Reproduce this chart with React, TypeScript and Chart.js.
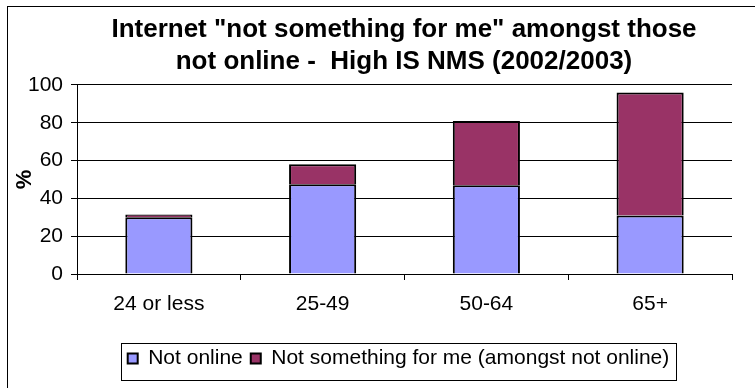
import React, { useEffect, useRef } from "react";
import { Chart, registerables } from "chart.js";

Chart.register(...registerables);

const categories = ["24 or less", "25-49", "50-64", "65+"];
const notOnline = [30, 47.5, 47, 31];
const notSomethingForMe = [1.5, 10.5, 34, 65];
const seriesLabels = ["Not online", "Not something for me (amongst not online)"];
const titleLines = ['Internet "not something for me" amongst those', "not online -  High IS NMS (2002/2003)"];
const yAxisTitle = "%";
const yMin = 0;
const yMax = 100;
const yStep = 20;

const FONT = '"Liberation Sans", Arial, sans-serif';

const framePlugin = {
  id: "frame",
  afterLayout(chart: any) {
    const tb = chart.titleBlock;
    if (tb) {
      tb.left += 34.5;
      tb.right += 34.5;
    }
    const lg = chart.legend;
    if (lg) {
      lg.left += 29;
      lg.right += 29;
    }
  },
  beforeDraw(chart: any) {
    const ctx = chart.ctx;
    ctx.save();
    ctx.fillStyle = "#ffffff";
    ctx.fillRect(0, 0, chart.width, chart.height);
    ctx.strokeStyle = "#000000";
    ctx.lineWidth = 1;
    ctx.strokeRect(7.5, 6.5, chart.width + 50, chart.height + 50);
    ctx.restore();
  },
  afterDraw(chart: any) {
    const lg = chart.legend;
    if (!lg || !lg.lineWidths) return;
    const p = lg.options.labels.padding;
    const lw = lg.lineWidths[0];
    const start = (lg.left + p + lg.right - lw) / 2;
    const end = start + lw - p;
    const ctx = chart.ctx;
    ctx.save();
    ctx.strokeStyle = "#000000";
    ctx.lineWidth = 1;
    const x0 = Math.round(start - 7) + 0.5;
    const x1 = Math.round(end + 7) + 0.5;
    const y0 = Math.round(lg.top + 3) + 0.5;
    const y1 = Math.round(lg.top + 40) + 0.5;
    ctx.strokeRect(x0, y0, x1 - x0, y1 - y0);
    ctx.restore();
  },
};

export default function App() {
  const ref = useRef<HTMLCanvasElement | null>(null);

  useEffect(() => {
    if (!ref.current) return;
    const chart = new Chart(ref.current, {
      type: "bar",
      data: {
        labels: categories,
        datasets: [
          {
            label: seriesLabels[0],
            data: notOnline,
            backgroundColor: "#9999FF",
            borderColor: "#000000",
            borderWidth: 2,
            categoryPercentage: 1,
            barPercentage: 0.41,
          },
          {
            label: seriesLabels[1],
            data: notSomethingForMe,
            backgroundColor: "#993366",
            borderColor: "#000000",
            borderWidth: 2,
            categoryPercentage: 1,
            barPercentage: 0.41,
          },
        ],
      },
      options: {
        responsive: false,
        animation: false,
        devicePixelRatio: 1,
        layout: { padding: { top: 6, left: 7, right: 23, bottom: 9 } },
        plugins: {
          title: {
            display: true,
            text: titleLines,
            color: "#000000",
            font: { family: FONT, size: 26, weight: "bold", lineHeight: 1.23 },
            padding: { top: 8, bottom: 7 },
          },
          legend: {
            display: true,
            position: "bottom",
            labels: {
              color: "#000000",
              font: { family: FONT, size: 21 },
              boxWidth: 10,
              boxHeight: 10,
              padding: 8,
            },
          },
          tooltip: { enabled: false },
        },
        scales: {
          x: {
            stacked: true,
            grid: {
              display: true,
              drawOnChartArea: false,
              drawTicks: true,
              tickLength: 6,
              tickColor: "#000000",
              offset: true,
            },
            border: { display: true, color: "#000000", width: 1 },
            ticks: {
              color: "#000000",
              font: { family: FONT, size: 21 },
              padding: 12,
              maxRotation: 0,
            },
            afterFit: (s: any) => {
              s.height = 66;
            },
          },
          y: {
            stacked: true,
            min: yMin,
            max: yMax,
            ticks: {
              stepSize: yStep,
              color: "#000000",
              font: { family: FONT, size: 21 },
              padding: 8,
            },
            grid: {
              color: "#000000",
              lineWidth: 1,
              drawTicks: true,
              tickLength: 6,
              tickColor: "#000000",
            },
            border: { display: true, color: "#000000", width: 1 },
            title: {
              display: true,
              text: yAxisTitle,
              color: "#000000",
              font: { family: FONT, size: 22, weight: "bold", lineHeight: 1.2 },
              padding: { top: 5, bottom: 0 },
            },
            afterFit: (s: any) => {
              s.width = 70;
            },
          },
        },
      },
      plugins: [framePlugin],
    });
    return () => chart.destroy();
  }, []);

  return (
    <div style={{ position: "absolute", left: 0, top: 0, width: 755, height: 388, background: "#fff" }}>
      <canvas ref={ref} width={755} height={388} style={{ display: "block", width: 755, height: 388 }} />
    </div>
  );
}
